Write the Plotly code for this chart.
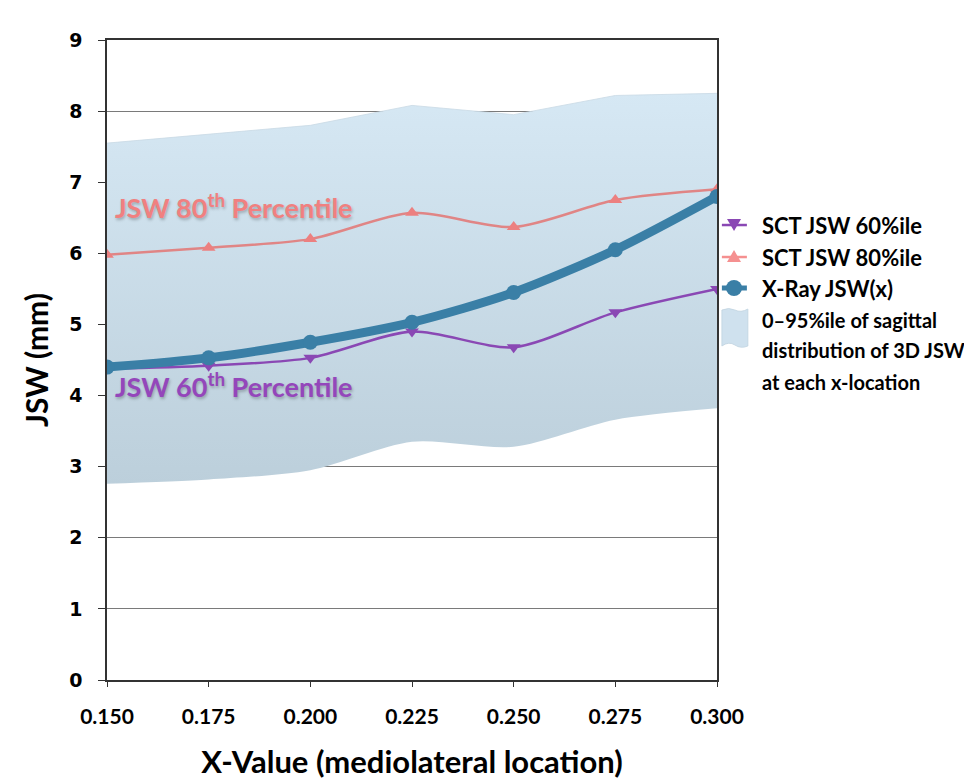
import plotly.graph_objects as go

x_vals = [0.150, 0.175, 0.200, 0.225, 0.250, 0.275, 0.300]
band_upper = [7.55, 7.68, 7.80, 8.08, 7.95, 8.22, 8.25]
band_lower = [2.76, 2.82, 2.95, 3.35, 3.28, 3.66, 3.82]
sct60 = [4.38, 4.42, 4.53, 4.90, 4.68, 5.17, 5.50]
sct80 = [5.98, 6.08, 6.20, 6.57, 6.37, 6.75, 6.90]
xray = [4.40, 4.53, 4.75, 5.03, 5.45, 6.05, 6.80]
x_ticks = [0.150, 0.175, 0.200, 0.225, 0.250, 0.275, 0.300]
x_tick_labels = ["0.150", "0.175", "0.200", "0.225", "0.250", "0.275", "0.300"]
y_ticks = list(range(0, 10))
legend_labels = ["SCT JSW 60%ile", "SCT JSW 80%ile", "X-Ray JSW(x)"]
band_label_lines = ["0–95%ile of sagittal", "distribution of 3D JSW", "at each x-location"]

FONT = "Lato"
SHADOW = "1px 2px 3px rgba(0,0,0,0.25)"
C60, C80, CXR = "#8a48b4", "#e08585", "#3a7fa6"
fig = go.Figure()

fig.add_trace(go.Scatter(x=x_vals, y=band_lower, mode="lines", line=dict(width=0, shape="spline", smoothing=0.8),
                         showlegend=False, hoverinfo="skip"))
fig.add_trace(go.Scatter(x=x_vals, y=band_upper, mode="lines", line=dict(width=0.8, color="#c9d9e4", shape="linear"),
                         fill="tonexty",
                         fillgradient=dict(type="vertical", colorscale=[[0, "#bccfdb"], [1, "#d6e8f4"]]),
                         showlegend=False))
fig.add_trace(go.Scatter(x=x_vals, y=sct80, mode="lines+markers", name=legend_labels[1], showlegend=False,
                         line=dict(color=C80, width=2.5, shape="spline", smoothing=0.8),
                         marker=dict(symbol="triangle-up", size=12, color="#ec8080")))
fig.add_trace(go.Scatter(x=x_vals, y=sct60, mode="lines+markers", name=legend_labels[0], showlegend=False,
                         line=dict(color=C60, width=2.5, shape="spline", smoothing=0.8),
                         marker=dict(symbol="triangle-down", size=12, color=C60)))
fig.add_trace(go.Scatter(x=x_vals, y=xray, mode="lines+markers", name=legend_labels[2], showlegend=False,
                         line=dict(color=CXR, width=9, shape="spline", smoothing=0.8),
                         marker=dict(symbol="circle", size=15, color=CXR)))

fig.add_annotation(x=0.1515, y=6.66, xref="x", yref="y", xanchor="left", yanchor="middle", showarrow=False,
                   text="JSW 80<sup>th</sup> Percentile",
                   font=dict(family=FONT, size=27, color="#f08080", weight="bold", shadow=SHADOW))
fig.add_annotation(x=0.1515, y=4.15, xref="x", yref="y", xanchor="left", yanchor="middle", showarrow=False,
                   text="JSW 60<sup>th</sup> Percentile",
                   font=dict(family=FONT, size=27, color="#9446bb", weight="bold", shadow=SHADOW))

# custom legend (paper coordinates)
row_y = [0.7109, 0.6609, 0.6125]
sym_x0, sym_x1, sym_xc, text_x = 1.008, 1.049, 1.0279, 1.0705
row_colors = [C60, "#f59090", CXR]
row_widths = [2.5, 2.5, 5]
for lbl, yy, col, w in zip(legend_labels, row_y, row_colors, row_widths):
    fig.add_shape(type="line", xref="paper", yref="paper", x0=sym_x0, x1=sym_x1, y0=yy, y1=yy,
                  line=dict(color=col, width=w))
    fig.add_annotation(x=text_x, y=yy, xref="paper", yref="paper", xanchor="left", yanchor="middle",
                       showarrow=False, text=lbl, font=dict(family=FONT, size=22, color="black", weight="bold"))
# triangle-down
fig.add_shape(type="path", xref="paper", yref="paper", xsizemode="pixel", ysizemode="pixel",
              xanchor=sym_xc, yanchor=row_y[0], path="M -7 6 L 7 6 L 0 -6 Z",
              fillcolor=C60, line=dict(width=0))
# triangle-up
fig.add_shape(type="path", xref="paper", yref="paper", xsizemode="pixel", ysizemode="pixel",
              xanchor=sym_xc, yanchor=row_y[1], path="M -7 -5 L 7 -5 L 0 7 Z",
              fillcolor="#f59090", line=dict(width=0))
# circle
fig.add_shape(type="circle", xref="paper", yref="paper", xsizemode="pixel", ysizemode="pixel",
              xanchor=sym_xc, yanchor=row_y[2], x0=-8, x1=8, y0=-8, y1=8,
              fillcolor=CXR, line=dict(width=0))
# band swatch
fig.add_shape(type="path", xref="paper", yref="paper", xsizemode="pixel", ysizemode="pixel",
              xanchor=sym_x0, yanchor=0.5625,
              path="M 0 10 Q 7 13 13 10 T 26 11 L 26 -26 Q 19 -29 13 -25 T 0 -26 Z",
              fillcolor="#cfe1ee", line=dict(color="#c0d3e0", width=0.8))
band_y = [0.5625, 0.5156, 0.4656]
for lbl, yy in zip(band_label_lines, band_y):
    fig.add_annotation(x=text_x, y=yy, xref="paper", yref="paper", xanchor="left", yanchor="middle",
                       showarrow=False, text=lbl, font=dict(family=FONT, size=20, color="black", weight="bold"))

fig.update_layout(
    width=964, height=775,
    margin=dict(l=99, r=255, t=32, b=103),
    plot_bgcolor="white", paper_bgcolor="white",
    font=dict(family=FONT, color="black"),
    showlegend=False,
    xaxis=dict(range=[0.150, 0.300], tickvals=x_ticks, ticktext=x_tick_labels, automargin=False,
               showgrid=False, zeroline=False, showline=True, linecolor="#333", linewidth=1.5, mirror=True,
               ticks="outside", ticklen=5, tickcolor="#333", ticklabelstandoff=12,
               tickfont=dict(family=FONT, size=21, weight="bold"),
               title=dict(text="X-Value (mediolateral location)", font=dict(family=FONT, size=31, weight="bold"), standoff=24)),
    yaxis=dict(range=[0, 9], tickvals=y_ticks, showgrid=True, gridcolor="#7a7a7a", gridwidth=1, automargin=False,
               zeroline=False, showline=True, linecolor="#333", linewidth=1.5, mirror=True,
               ticks="outside", ticklen=7, tickcolor="#333", ticklabelstandoff=12,
               tickfont=dict(family="DejaVu Sans", size=19, weight="bold"),
               title=dict(text="JSW (mm)", font=dict(family=FONT, size=30, weight="bold"), standoff=12)),
)

fig.write_html("out.html")
